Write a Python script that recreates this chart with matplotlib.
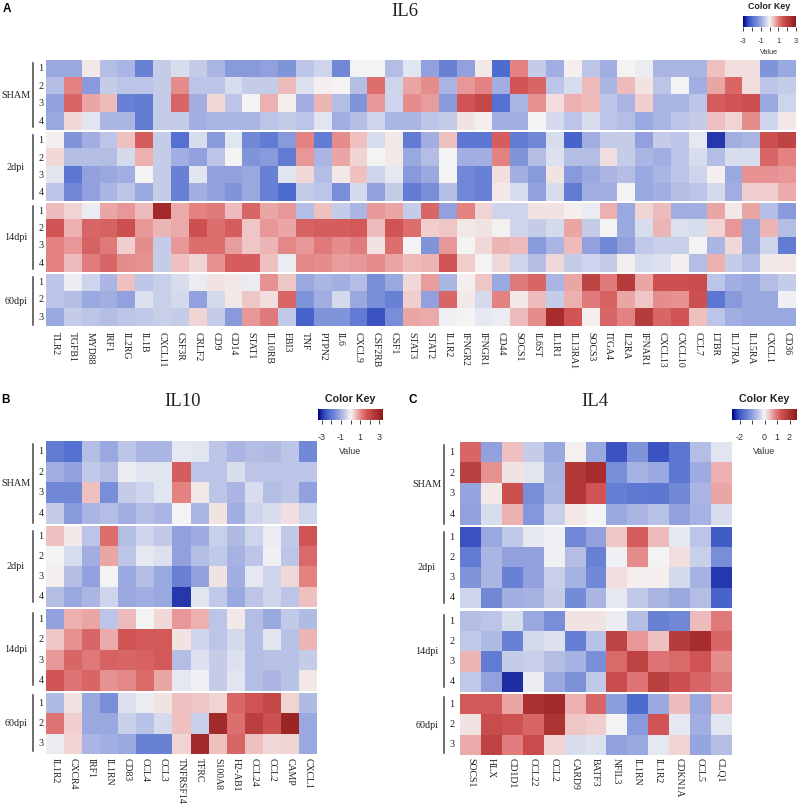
import numpy as np
import matplotlib
matplotlib.use('Agg')
import matplotlib.pyplot as plt
from matplotlib.colors import LinearSegmentedColormap
from matplotlib.lines import Line2D

W, H = 800, 806
SERIF = 'Liberation Serif'
SANS = 'Liberation Sans'

groups = ['SHAM', '2dpi', '14dpi', '60dpi']

il6_genes = ['TLR2', 'TGFB1', 'MYD88', 'IRF1', 'IL2RG', 'IL1B', 'CXCL11', 'CSF3R', 'CRLF2', 'CD9', 'CD14',
             'STAT1', 'IL10RB', 'EBI3', 'TNF', 'PTPN2', 'IL6', 'CXCL9', 'CSF2RB', 'CSF1', 'STAT3', 'STAT2',
             'IL1R2', 'IFNGR2', 'IFNGR1', 'CD44', 'SOCS1', 'IL6ST', 'IL1R1', 'IL13RA1', 'SOCS3', 'ITGA4',
             'IL2RA', 'IFNAR1', 'CXCL13', 'CXCL10', 'CCL7', 'LTBR', 'IL17RA', 'IL15RA', 'CXCL1', 'CD36']
il10_genes = ['IL1R2', 'CXCR4', 'IRF1', 'IL1RN', 'CD83', 'CCL4', 'CCL3', 'TNFRSF14', 'TFRC', 'S100A8',
              'H2-AB1', 'CCL24', 'CCL2', 'CAMP', 'CXCL1']
il4_genes = ['SOCS1', 'HLX', 'CD1D1', 'CCL22', 'CCL2', 'CARD9', 'BATF3', 'NFIL3', 'IL1RN', 'IL1R2',
             'CDKN1A', 'CCL5', 'CLQ1']

# values read by eye against the colour ramp, one row per sample
il6_sham = [
    [-1.0, -1.0, 0.1, -0.7, -0.8, -1.6, -0.5, -0.3, -0.5, -0.8, -1.2, -1.2, -1.1, -1.3, -0.6, -0.4, -1.5, 0.0, 0.0, -0.7,
     -0.2, -1.1, -1.6, -1.1, 0.1, -2.0, 1.0, -0.5, -0.9, 0.05, -0.6, -0.9, 0.0, -0.1, -0.8, -0.8, -0.8, 0.45, 0.2, 0.2, -1.3, -1.0],
    [-0.7, 1.0, -1.2, -0.5, -0.6, -0.6, -0.5, 0.9, -0.6, -0.6, -0.3, -0.5, -0.5, 0.5, -0.25, 0.05, 0.0, -0.7, 1.2, -0.4,
     0.7, 0.9, -0.8, 0.8, 1.0, -0.9, 1.5, 1.3, -0.6, -0.3, 0.5, -0.8, 0.5, 0.15, -0.6, 0.0, -0.9, 0.7, 1.3, 0.2, -0.6, -0.5],
    [-1.1, 1.3, 0.7, 0.5, -1.6, -1.7, -0.5, 1.3, -0.9, 0.25, -0.6, 0.0, 0.6, 0.05, -0.9, 0.55, -0.7, -1.3, 0.8, -0.4,
     0.9, 0.75, -1.2, 1.5, 1.8, -1.9, -0.8, 0.85, 0.2, 0.6, 0.5, -0.6, -0.8, 0.35, -0.8, -0.8, -0.6, 1.4, 1.5, 1.6, -1.0, -0.4],
    [-1.0, 0.25, -0.2, -0.8, -0.8, -1.7, -0.5, -0.5, -0.9, -0.8, -0.8, -0.8, -0.6, -0.5, -0.6, -0.2, -0.9, -0.7, -0.4, -0.8,
     -0.8, -0.6, -0.5, 0.15, 0.05, -0.9, -0.9, 0.0, -0.35, -0.6, -0.3, -0.6, -0.7, -1.0, -0.8, -0.6, -0.5, 0.45, 0.3, 0.9, -0.4, 0.1],
]
il6_2dpi = [
    [0.05, -1.3, -0.9, -0.6, 0.45, 1.4, -0.5, -1.9, -0.3, -1.2, -0.2, -1.5, -1.7, -1.2, 1.0, -1.7, 0.9, 0.45, -0.3, 0.1,
     -1.7, -0.9, 0.45, -1.8, -1.8, 1.4, -1.7, -1.5, -0.3, -2.1, -0.9, -0.5, -0.5, -1.1, -0.5, -0.6, -0.15, -2.6, -0.9, -0.8, 1.6, 1.9],
    [0.25, -0.7, -0.7, -0.7, -0.35, 0.6, -0.5, -0.9, -1.1, -0.6, 0.0, -1.3, -1.2, -1.7, 0.8, -0.8, 0.7, 0.3, 0.02, 0.1,
     -1.0, -0.7, 0.0, -0.9, -0.9, 1.0, -1.3, -0.7, -0.25, -0.7, -0.7, 0.2, -0.5, -0.8, -0.9, -0.6, -0.3, -0.7, -0.3, -0.3, 1.3, 1.0],
    [-0.2, -1.8, -1.1, -1.0, -0.9, 0.0, -0.5, -1.6, -0.2, -1.1, -1.1, -1.0, -1.6, -0.2, 0.25, -0.7, 0.1, 0.45, -0.4, -0.15,
     -1.2, -1.0, 0.0, -1.5, -1.6, 0.2, -0.9, -1.2, 0.15, -1.2, -1.0, -0.8, -0.7, -1.0, -0.8, -0.6, -0.4, 0.05, -1.0, 0.85, 0.85, 0.8],
    [-0.6, -1.5, -1.1, -0.8, -0.6, -1.0, -0.5, -1.6, -0.9, -1.1, -1.3, -1.0, -1.6, -2.0, -0.5, -0.6, -1.4, -0.35, -1.1, -0.5,
     -1.7, -1.4, -0.7, -1.5, -1.6, 0.1, -0.3, -1.1, -0.3, -1.7, -0.9, -0.9, 0.0, -1.0, -0.9, -0.7, -0.6, -0.35, -0.9, 0.35, 0.35, 0.65],
]
il6_14dpi = [
    [0.5, 0.3, -0.1, 0.7, 0.8, 0.5, 2.6, 0.65, 1.0, 1.1, 0.5, 1.3, 0.7, 0.8, -0.7, 0.45, -0.5, -0.8, 0.8, 0.7,
     -0.5, 1.3, -1.1, 1.0, 0.3, -0.4, -0.4, 0.15, 0.15, 0.05, -0.1, 0.6, -1.0, 0.3, 0.5, -0.9, -0.9, 0.7, 0.1, 0.7, -0.7, -1.2],
    [1.5, 0.6, 1.3, 1.35, 1.6, 0.8, 0.55, 0.65, 1.6, 1.2, 1.4, 0.4, 0.8, 0.7, 1.35, 1.4, 1.4, 1.45, 0.5, 1.5,
     1.2, 0.35, 0.4, 0.1, 0.15, 0.03, -0.4, -0.5, -0.35, 0.7, -0.5, 0.0, -1.0, -0.3, 0.55, -0.25, -0.3, 0.3, 0.8, -1.0, 0.55, -0.7],
    [1.0, 0.8, 1.35, 1.1, 0.35, 0.9, -0.5, 0.8, 1.2, 1.2, 0.75, 0.4, 0.55, 0.95, 0.8, 1.1, 0.9, 1.05, 0.15, 1.2,
     0.0, -1.3, 0.8, 0.02, 0.25, 0.55, 0.5, -1.2, -0.8, 0.5, -1.1, -1.5, -1.1, -0.55, -0.45, -0.45, 0.02, -0.8, 0.25, -1.0, -0.4, -1.7],
    [1.0, 0.5, 1.05, 1.3, 0.9, 0.85, -0.5, 0.45, 0.3, 0.85, 1.4, 1.4, 0.45, -0.1, 0.95, 0.9, 0.75, 0.8, 0.9, 0.7,
     0.5, 0.55, 1.5, 0.35, 0.02, 0.25, -0.4, -0.7, 0.25, -0.5, -0.4, -0.5, 0.05, -0.3, -0.25, 0.05, -0.7, 0.6, -0.5, -0.7, 0.1, 0.1],
]
il6_60dpi = [
    [-0.6, -0.1, -0.4, -0.8, 0.45, -0.6, -0.45, -0.3, -0.1, 0.15, 0.1, -0.1, 0.85, 0.4, -1.0, -0.8, -0.9, -0.7, -1.4, -1.0,
     0.25, 0.75, -0.8, 0.05, 0.4, -1.0, 1.1, 1.3, -0.8, 0.7, 1.9, 1.1, 2.1, 0.7, 1.6, 1.6, 1.7, -0.6, -0.9, -1.0, -0.7, -0.5],
    [-0.6, -0.7, -1.0, -0.9, -1.1, -0.25, -0.45, -0.35, -1.1, -0.35, 0.1, 0.4, 0.2, 1.3, -1.3, -0.9, -0.35, -1.0, -1.4, -1.6,
     0.35, -1.1, 1.3, 0.1, -0.35, 1.0, 0.1, 0.5, -0.5, 0.6, 1.1, 1.35, 0.7, 0.4, 0.9, 0.85, 1.6, -1.8, -1.2, -1.0, -1.0, -0.05],
    [-1.0, -0.5, -0.6, -0.7, -0.6, -0.55, -0.45, -0.5, 0.3, -0.5, -1.2, 0.8, 1.1, -0.55, -2.1, -1.3, -1.3, -1.7, -2.3, -1.4,
     0.7, 0.65, -0.05, 0.02, -0.15, -0.1, 0.5, 0.9, 2.5, 1.5, 0.05, 1.3, 1.0, 2.1, 1.3, 1.5, 0.45, -0.6, -0.9, -1.0, -1.0, -1.0],
]

il10_sham = [
    [-1.7, -1.9, -0.7, -1.0, -0.6, -0.8, -0.8, -0.15, -0.2, -0.6, -0.8, -0.7, -0.75, -0.6, -1.5],
    [-0.9, -1.1, -0.55, -0.7, -0.1, -0.2, -0.2, 1.4, -0.6, -0.6, -0.3, -0.6, -0.6, -0.6, -0.6],
    [-1.5, -1.5, 0.45, -1.4, -0.5, -0.4, -0.2, 1.0, 0.1, -0.6, -0.8, -0.3, -0.7, -0.6, -1.1],
    [-0.5, -1.2, -0.8, -0.7, -0.9, -0.7, -0.8, 0.0, -0.8, 0.15, -0.9, -0.4, -0.3, 0.2, -0.4],
]
il10_2dpi = [
    [0.45, 0.1, -0.6, 1.2, -0.7, -0.4, -0.55, -1.1, -0.95, -0.45, -0.75, -0.4, -0.1, -0.55, 1.5],
    [0.0, -0.3, -0.9, 0.7, -0.6, -0.15, -0.25, -1.1, -0.7, -0.55, -0.85, -0.6, -0.05, -0.6, 1.25],
    [0.05, -0.7, -1.1, 0.0, -1.0, -0.7, -1.0, -1.6, -1.1, 0.15, -0.9, -0.15, -0.4, 0.25, 1.0],
    [-0.7, -1.0, -0.8, -0.4, -1.0, -0.9, -1.0, -2.6, -0.2, -0.55, -1.0, -0.6, -0.4, -0.6, 0.45],
]
il10_14dpi = [
    [-1.1, 0.6, 0.7, -0.6, 0.5, 0.0, 0.25, 0.8, 0.6, -0.6, 0.1, -0.7, -1.0, -0.55, -0.75],
    [0.4, 0.85, 1.3, 0.65, 1.5, 1.45, 1.45, 0.15, -0.4, -0.6, -0.35, -0.7, -0.2, -0.65, 0.55],
    [0.8, 1.3, 1.1, 1.35, 1.3, 1.35, 1.45, -0.7, -0.25, -0.5, -0.25, -0.7, -0.65, -0.65, -0.5],
    [1.5, 1.15, 1.3, 0.85, 0.95, 1.25, 0.7, -0.15, -0.05, -0.5, -0.2, -0.7, -0.8, -0.65, 0.1],
]
il10_60dpi = [
    [-0.75, 0.15, -1.0, -1.4, -0.25, -0.1, 0.15, 0.45, 0.4, 0.3, 1.3, 1.5, 1.8, 0.3, -0.75],
    [1.15, 0.35, -1.0, -1.0, -0.45, -0.65, -0.35, 0.45, -0.45, 2.6, 1.2, 2.0, 1.6, 2.7, -1.0],
    [-0.1, 0.3, -0.8, -0.9, -1.0, -1.6, -1.6, 0.3, 2.6, 0.45, 1.3, 0.45, 0.25, 0.3, -1.0],
]

il4_sham = [
    [1.3, -1.1, 0.45, -0.5, -1.0, 0.03, -1.0, -2.3, -1.3, -2.3, -1.8, -0.7, -0.2],
    [2.0, 0.85, 0.15, -0.2, -0.85, 2.2, 2.5, -1.4, -0.85, -1.0, -1.8, -0.95, 0.6],
    [-1.05, 0.1, 1.6, -1.4, -0.8, 2.2, 1.5, -1.65, -1.75, -1.8, -1.5, -0.8, 0.7],
    [-1.1, -0.3, 0.6, -1.25, -0.45, 0.1, 0.0, -1.0, -0.8, -0.65, -1.1, -0.85, -0.3],
]
il4_2dpi = [
    [-2.3, -1.0, -0.55, -0.15, -0.05, -1.5, -1.1, 0.4, 1.4, 0.5, -0.15, -0.6, -2.2],
    [-1.7, -0.8, -1.1, -1.1, -0.05, -0.7, -1.6, -0.05, 0.9, 0.0, 0.2, -0.45, -1.4],
    [-1.3, -0.8, -1.6, -1.1, -0.45, -0.85, -1.5, 0.2, 0.05, 0.05, -0.35, -0.85, -2.6],
    [-0.4, -1.5, -0.9, -0.85, -0.5, -1.45, -0.8, -0.15, -0.55, -0.8, -1.0, -0.7, -2.1],
]
il4_14dpi = [
    [-0.7, -0.6, -0.3, -1.0, -1.4, 0.15, 0.15, -0.1, -0.7, -1.6, -1.5, 0.5, 1.1],
    [-0.55, -0.75, -1.6, -0.35, -0.25, -1.65, -0.65, 1.9, 0.8, 0.45, 2.1, 2.5, 1.3],
    [0.55, -1.7, -0.5, -0.45, -0.7, -0.85, -1.4, 1.25, 1.9, 1.15, 1.25, 1.5, 0.9],
    [-0.55, -1.1, -2.65, -0.1, -1.0, -1.35, -0.55, 1.7, 1.15, 2.0, 1.6, 1.3, 1.1],
]
il4_60dpi = [
    [1.45, 1.45, 0.7, 2.4, 2.6, 0.6, 1.3, -1.15, -2.0, -1.0, 0.5, -1.0, 0.5],
    [0.15, 1.7, 1.55, 1.3, 2.3, 0.4, 0.35, 0.0, -1.2, 1.5, -0.15, -0.9, -0.2],
    [0.65, 1.9, 1.05, 1.7, 0.3, -0.3, -0.25, -1.1, -1.0, -0.15, 0.3, -1.05, -0.7],
]

ramp = LinearSegmentedColormap.from_list('key', [
    (0.0, '#00007f'), (1 / 12, '#2e45b8'), (2 / 12, '#4f6cd0'), (3 / 12, '#7088d6'), (4 / 12, '#9aa8e0'),
    (5 / 12, '#c5cde9'), (6 / 12, '#f5f5f5'), (7 / 12, '#eebcbc'), (8 / 12, '#e48282'), (9 / 12, '#d25555'),
    (10 / 12, '#bb4040'), (11 / 12, '#a82e2e'), (1.0, '#8b1a1a')])

fig = plt.figure(figsize=(W / 100, H / 100), dpi=100)


def box(x0, y0, x1, y1):
    # pixel box, y counted from the top
    return [x0 / W, 1 - y1 / H, (x1 - x0) / W, (y1 - y0) / H]


def put(x, y, s, **kw):
    kw.setdefault('ha', 'center')
    kw.setdefault('va', 'center')
    fig.text(x / W, 1 - y / H, s, **kw)


def heat_panel(data, genes, x0, x1, spans, brackets, bar_x, num_x, grp_x, label_y):
    for k, rows in enumerate(data):
        y0, y1 = spans[k]
        ax = fig.add_axes(box(x0, y0, x1, y1))
        ax.imshow(np.array(rows), cmap=ramp, vmin=-3, vmax=3, aspect='auto', interpolation='nearest')
        ax.set_axis_off()
        step = (y1 - y0) / len(rows)
        for i in range(len(rows)):
            put(num_x, y0 + step * (i + 0.5), str(i + 1), family=SERIF, fontsize=7.3, color='#222222')
        b0, b1 = brackets[k]
        fig.add_artist(Line2D([bar_x / W, bar_x / W], [1 - b0 / H, 1 - b1 / H], color='#444444', lw=1.1))
        put(grp_x, (b0 + b1) / 2, groups[k], family=SERIF, fontsize=7.3, color='#222222')
    step = (x1 - x0) / len(genes)
    for j, g in enumerate(genes):
        put(x0 + step * (j + 0.5), label_y, g, family=SERIF, fontsize=7.0, color='#222222',
            rotation=-90, va='top')


def color_key(x0, x1, y0, y1, limit, ticks, labels, title_size, text_size, value_gap, pad):
    ax = fig.add_axes(box(x0, y0, x1, y1))
    ax.imshow(np.linspace(-3, 3, 256)[None, :], cmap=ramp, vmin=-3, vmax=3, aspect='auto',
              extent=[-limit, limit, 0, 1])
    ax.set_yticks([])
    ax.set_xticks(ticks)
    ax.set_xticklabels(labels, family=SANS, fontsize=text_size, color='#333333')
    ax.tick_params(axis='x', length=3.2, width=0.6, pad=pad, color='#222222')
    for s in ax.spines.values():
        s.set_visible(False)
    mid = (x0 + x1) / 2
    put(mid, y0 - 9.5, 'Color Key', family=SANS, fontsize=title_size, fontweight='bold', color='#222222')
    put(mid, y1 + value_gap, 'Value', family=SANS, fontsize=text_size, color='#333333')


# panel A
heat_panel([il6_sham, il6_2dpi, il6_14dpi, il6_60dpi], il6_genes, 46, 796,
           [(60, 130), (132, 201.5), (202.5, 272), (273.5, 326)],
           [(63, 127), (135, 199), (206, 269), (277, 325)], 33, 41, 16, 332)
put(7, 9.5, 'A', family=SANS, fontsize=8.5, fontweight='bold', color='black')
put(404.5, 11, 'IL6', family=SERIF, fontsize=13.5, color='#222222')
color_key(743, 796, 16, 27, 3.05, [-3, -2, -1, 0, 1, 2, 3], ['-3', '', '-1', '', '1', '', '3'], 6.4, 5.3, 25.5, 5)

# panel B
heat_panel([il10_sham, il10_2dpi, il10_14dpi, il10_60dpi], il10_genes, 46, 317,
           [(441, 524), (526, 607), (609, 691), (693, 754)],
           [(444, 523), (531, 602), (613, 685), (695, 751)], 33, 41, 16, 758)
put(6, 400, 'B', family=SANS, fontsize=8.5, fontweight='bold', color='black')
put(183, 401, 'IL10', family=SERIF, fontsize=13.5, color='#222222')
color_key(318, 383, 409, 420, 3.4, [-3, -2, -1, 0, 1, 2, 3], ['-3', '', '-1', '', '1', '', '3'], 7.7, 6.4, 31, 5.8)

# panel C
heat_panel([il4_sham, il4_2dpi, il4_14dpi, il4_60dpi], il4_genes, 460, 731,
           [(442, 525), (527, 608), (611, 692), (694, 755)],
           [(445, 524), (532, 603), (615, 687), (697, 753)], 444, 452, 427, 758)
put(413, 400, 'C', family=SANS, fontsize=8.5, fontweight='bold', color='black')
put(595, 401, 'IL4', family=SERIF, fontsize=13.5, color='#222222')
color_key(732, 797, 409, 420, 2.6, [-2, -1, 0, 1, 2], ['-2', '', '0', '1', '2'], 7.7, 6.4, 31, 5.8)

fig.savefig('out.png', dpi=100)
